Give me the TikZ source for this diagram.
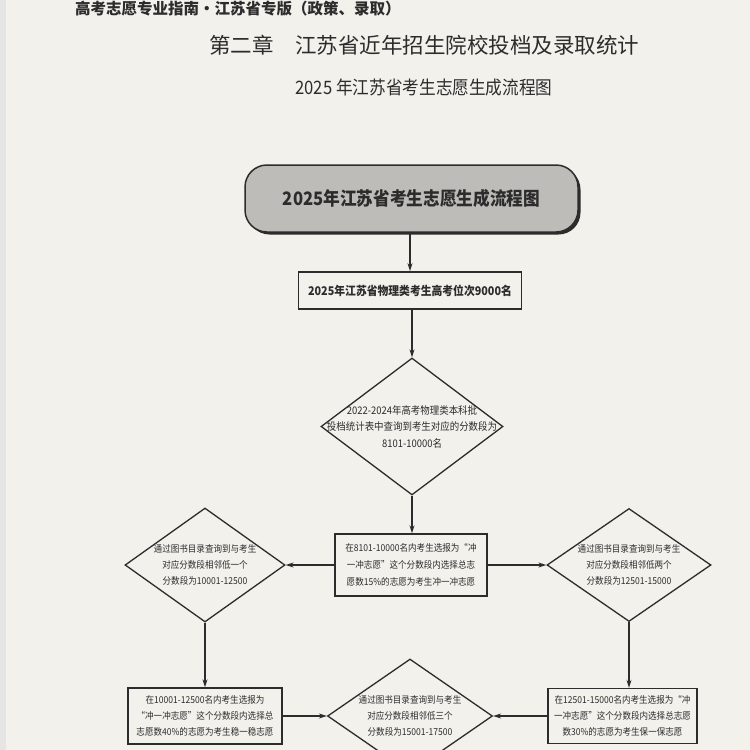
\documentclass[tikz,border=0pt]{standalone}
\usepackage{fontspec}
\usetikzlibrary{arrows.meta,shapes.geometric}
\newfontfamily\cjk{Noto Sans CJK SC}
\newfontfamily\cjkn[FakeStretch=0.9]{Noto Sans CJK SC}
\definecolor{paper}{HTML}{F3F1EC}
\definecolor{ink}{HTML}{2C2C2C}
\definecolor{titlegray}{HTML}{BDBCB8}
\tikzset{
  lnk/.style={draw=ink, line width=1.2pt, -{Stealth[length=8pt,width=5pt]}},
  boxnode/.style={draw=ink, line width=1.4pt, fill=paper, inner sep=0pt, align=center, text=ink},
  dianode/.style={diamond, draw=ink, line width=1.3pt, inner sep=0pt, fill=paper},
  smalltxt/.style={align=center, inner sep=0pt, text=ink, font=\cjkn\fontsize{9.5}{16}\selectfont},
}
\begin{document}
\begin{tikzpicture}[x=1pt,y=-1pt]
\useasboundingbox (0,0) rectangle (750,750);
\clip (0,0) rectangle (750,750);
\fill[paper] (0,0) rectangle (750,750);
\fill[black!10] (0,0) rectangle (6,750);
% headings
\node[anchor=west, inner sep=0pt, text=ink, font=\cjk\bfseries\fontsize{15.5}{18}\selectfont] (hdr) at (75,9) {高考志愿专业指南·江苏省专版（政策、录取）};
\node[inner sep=0pt, text=ink, font=\cjk\fontsize{21.5}{24}\selectfont] (chap) at (424,45) {第二章\hspace{1em}江苏省近年招生院校投档及录取统计};
\node[inner sep=0pt, text=ink, font=\cjkn\fontsize{18.5}{22}\selectfont] (sub) at (424,87) {2025 年江苏省考生志愿生成流程图};
% title box
\fill[ink, rounded corners=22pt] (247.5,167.5) rectangle (580.5,234.5);
\node[draw=ink, line width=1.5pt, fill=titlegray, rounded corners=22pt, minimum width=333pt, minimum height=67pt, inner sep=0pt, text=ink, font=\cjkn\bfseries\fontsize{18.5}{22}\selectfont] (title) at (411.5,198.5) {2025年江苏省考生志愿生成流程图};
% step boxes
\node[boxnode, line width=1.8pt, minimum width=223pt, minimum height=37pt, font=\cjkn\bfseries\fontsize{12}{14}\selectfont] (b2) at (410,290.5) {2025年江苏省物理类考生高考位次9000名};
\node[dianode, minimum width=182pt, minimum height=137pt] (d1) at (412,426.5) {};
\node[smalltxt, font=\cjkn\fontsize{10.5}{16.5}\selectfont] (d1t) at (d1) {2022-2024年高考物理类本科批\\投档统计表中查询到考生对应的分数段为\\8101-10000名};
\node[boxnode, minimum width=152pt, minimum height=62pt, font=\cjkn\fontsize{9.5}{17}\selectfont] (b3) at (411,565) {在8101-10000名内考生选报为“冲\\一冲志愿”这个分数段内选择总志\\愿数15\%的志愿为考生冲一冲志愿};
\node[dianode, minimum width=160pt, minimum height=114pt] (dL) at (205,565) {};
\node[smalltxt] (dLt) at (dL) {通过图书目录查询到与考生\\对应分数段相邻低一个\\分数段为10001-12500};
\node[dianode, minimum width=164pt, minimum height=113pt] (dR) at (629,565) {};
\node[smalltxt] (dRt) at (dR) {通过图书目录查询到与考生\\对应分数段相邻低两个\\分数段为12501-15000};
\node[boxnode, minimum width=154pt, minimum height=56pt, font=\cjkn\fontsize{9.5}{16}\selectfont] (bL) at (205,716) {在10001-12500名内考生选报为\\“冲一冲志愿”这个分数段内选择总\\志愿数40\%的志愿为考生稳一稳志愿};
\node[boxnode, minimum width=149pt, minimum height=55pt, font=\cjkn\fontsize{9.5}{16}\selectfont] (bR) at (622.5,716) {在12501-15000名内考生选报为“冲\\一冲志愿”这个分数段内选择总志愿\\数30\%的志愿为考生保一保志愿};
\node[dianode, minimum width=165pt, minimum height=114pt] (dM) at (410,716) {};
\node[smalltxt] (dMt) at (dM) {通过图书目录查询到与考生\\对应分数段相邻低三个\\分数段为15001-17500};
% connectors
\draw[lnk] (title.south -| b2.north) -- (b2.north);
\draw[lnk] (b2.south -| d1.north) -- (d1.north);
\draw[lnk] (d1.south) -- (d1.south |- b3.north);
\draw[lnk] (b3.west) -- (dL.east);
\draw[lnk] (b3.east) -- (dR.west);
\draw[lnk] (dL.south) -- (dL.south |- bL.north);
\draw[lnk] (dR.south) -- (dR.south |- bR.north);
\draw[lnk] (bL.east) -- (dM.west);
\draw[lnk] (bR.west) -- (dM.east);
\end{tikzpicture}
\end{document}
